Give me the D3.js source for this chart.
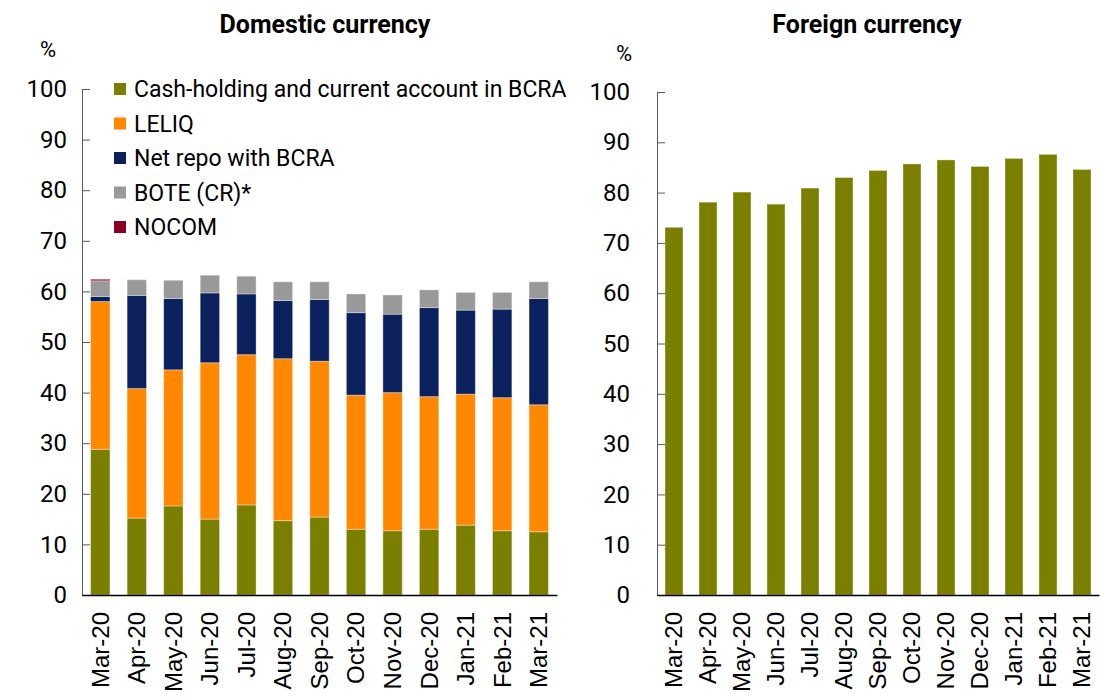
<!DOCTYPE html>
<html>
<head>
<meta charset="utf-8">
<script src="https://cdn.jsdelivr.net/npm/d3@7.9.0/dist/d3.min.js"></script>
<style>
  body { margin: 0; background: #fff; }
  svg { display: block; font-family: Roboto, sans-serif; }
  .tick line { stroke: #595959; }
  .yaxis .domain { stroke: #595959; }
  .xaxis .domain { stroke: #000; stroke-width: 1.5; }
</style>
</head>
<body>
<svg width="1100" height="699"></svg>
<script>
const months = ['Mar-20', 'Apr-20', 'May-20', 'Jun-20', 'Jul-20', 'Aug-20', 'Sep-20',
  'Oct-20', 'Nov-20', 'Dec-20', 'Jan-21', 'Feb-21', 'Mar-21'];
const seriesNames = ['Cash-holding and current account in BCRA', 'LELIQ', 'Net repo with BCRA', 'BOTE (CR)*', 'NOCOM'];
const cash = [28.8, 15.2, 17.6, 15.0, 17.8, 14.7, 15.4, 13.0, 12.7, 13.0, 13.8, 12.7, 12.5];
const leliq = [29.2, 25.6, 26.9, 30.9, 29.7, 32.0, 30.8, 26.5, 27.3, 26.2, 25.9, 26.3, 25.1];
const netRepo = [1.0, 18.4, 14.1, 13.8, 12.0, 11.5, 12.2, 16.3, 15.5, 17.6, 16.6, 17.5, 21.0];
const bote = [3.1, 3.1, 3.6, 3.5, 3.5, 3.7, 3.5, 3.7, 3.8, 3.5, 3.5, 3.3, 3.3];
const nocom = [0.3, 0, 0, 0, 0, 0, 0, 0, 0, 0, 0, 0, 0];
const foreign = [73.1, 78.1, 80.1, 77.7, 80.9, 83.0, 84.4, 85.7, 86.5, 85.2, 86.8, 87.6, 84.6];
const yTicks = [0, 10, 20, 30, 40, 50, 60, 70, 80, 90, 100];
const colors = ['#7b7f00', '#ff8800', '#0b215e', '#999999', '#8b0025'];

const svg = d3.select('svg');

// domestic table for the stack
const keys = ['cash', 'leliq', 'netRepo', 'bote', 'nocom'];
const rows = months.map((m, i) => ({
  month: m, cash: cash[i], leliq: leliq[i], netRepo: netRepo[i], bote: bote[i], nocom: nocom[i]
}));
const stacked = d3.stack().keys(keys)(rows);

function panel(x0, x1, yTop, labelPad) {
  const x = d3.scaleBand().domain(months).range([x0, x1]).paddingInner(0.47).paddingOuter(0.235);
  const y = d3.scaleLinear().domain([0, 100]).range([595, yTop]);
  return { x, y, labelPad };
}

function drawAxes(p) {
  const ya = svg.append('g').attr('class', 'yaxis')
    .attr('transform', `translate(${p.x.range()[0]},0)`)
    .call(d3.axisLeft(p.y).tickValues(yTicks).tickSize(-8).tickPadding(p.labelPad));
  ya.selectAll('text').attr('font-size', 24).attr('fill', '#000').attr('font-family', 'Roboto');

  const xa = svg.append('g').attr('class', 'xaxis')
    .attr('transform', 'translate(0,595)')
    .call(d3.axisBottom(p.x).tickSize(0).tickSizeOuter(0));
  xa.selectAll('text')
    .attr('font-size', 24)
    .attr('font-family', 'Liberation Sans, Arial, sans-serif')
    .attr('fill', '#000')
    .attr('text-anchor', 'end')
    .attr('dy', '0.35em')
    .attr('transform', 'translate(0,17) rotate(-90)')
    .attr('y', 0)
    .attr('x', 0);
}

// left: domestic currency
const L = panel(82, 557, 89, 15);
svg.append('g').selectAll('g').data(stacked).join('g')
  .attr('fill', (d, i) => colors[i])
  .selectAll('rect').data(d => d.filter(s => s[1] - s[0] > 0)).join('rect')
  .attr('x', d => L.x(d.data.month))
  .attr('width', L.x.bandwidth())
  .attr('y', d => L.y(d[1]))
  .attr('height', d => L.y(d[0]) - L.y(d[1]))
  .attr('stroke', 'rgba(255,255,255,0.35)')
  .attr('stroke-width', 1);
drawAxes(L);

// right: foreign currency
const R = panel(657, 1099, 92, 27);
svg.append('g').selectAll('rect').data(foreign).join('rect')
  .attr('x', (d, i) => R.x(months[i]))
  .attr('width', R.x.bandwidth())
  .attr('y', d => R.y(d))
  .attr('height', d => R.y(0) - R.y(d))
  .attr('fill', colors[0])
  .attr('stroke', 'rgba(255,255,255,0.35)')
  .attr('stroke-width', 1);
drawAxes(R);

// titles and units
svg.append('text').attr('x', 325).attr('y', 33).attr('text-anchor', 'middle')
  .attr('font-size', 25).attr('font-weight', 'bold').text('Domestic currency');
svg.append('text').attr('x', 867).attr('y', 33).attr('text-anchor', 'middle')
  .attr('font-size', 25).attr('font-weight', 'bold').text('Foreign currency');
svg.append('text').attr('x', 48).attr('y', 57).attr('text-anchor', 'middle')
  .attr('font-size', 22).text('%');
svg.append('text').attr('x', 624).attr('y', 61).attr('text-anchor', 'middle')
  .attr('font-size', 22).text('%');

// legend
const lg = svg.append('g').selectAll('g').data(seriesNames).join('g')
  .attr('transform', (d, i) => `translate(114,${89 + i * 34.5})`);
lg.append('rect').attr('y', -6).attr('width', 12).attr('height', 12)
  .attr('fill', (d, i) => colors[i]);
lg.append('text').attr('x', 20).attr('dy', '0.36em').attr('font-size', 23)
  .attr('fill', '#000').text(d => d);
</script>
</body>
</html>
